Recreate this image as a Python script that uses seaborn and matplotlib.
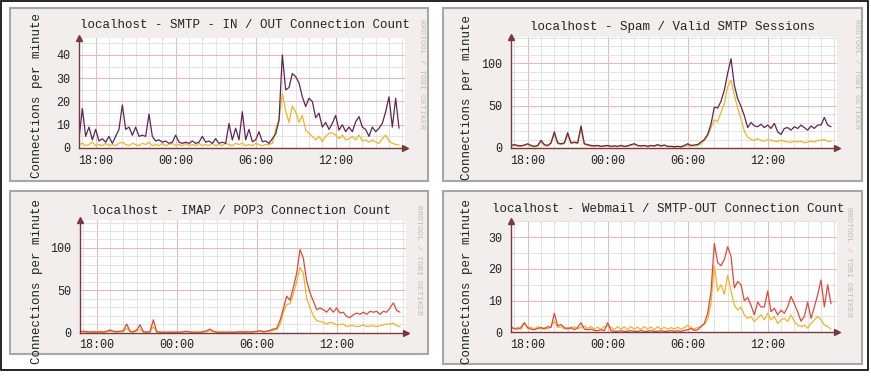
import numpy as np
import pandas as pd
import matplotlib.pyplot as plt
import seaborn as sns
from matplotlib.patches import Rectangle
from matplotlib.ticker import FixedLocator, MultipleLocator

# 15 minute samples, 16:45 -> 16:45 next day (hours, 24 = midnight)
hours = 16.75 + 0.25 * np.arange(97)
tick_hours = [18, 24, 30, 36]
tick_labels = ['18:00', '00:00', '06:00', '12:00']

smtp_in = [4, 17, 5, 9, 3.5, 8, 3, 4, 2.5, 5,
           2, 5, 8, 18.5, 8, 9, 5.5, 9, 5, 5.5,
           5, 14.6, 5, 3, 3.5, 2.5, 3, 2, 2.5, 5.5,
           2.5, 2, 2.5, 2, 3, 2, 2.5, 5, 2.5, 3,
           2, 4, 2, 2.5, 2, 10.5, 3.5, 8.5, 3.5, 15.6,
           3.5, 8, 2.7, 3.5, 7, 2.7, 3, 2, 4, 6,
           12, 40, 25, 26, 32, 30.7, 28, 22, 17.8, 21.4,
           20, 13, 15, 9, 11, 8, 10.6, 14, 7.7, 10,
           7, 9, 7, 11.3, 13.5, 9, 8, 5, 9, 7,
           8.5, 10.6, 15.6, 22, 9, 21.4, 8.5]
smtp_out = [1.5, 2, 1, 1.5, 2.5, 1, 1.5, 1, 2, 1,
            1.5, 1, 2, 2.5, 1.5, 1, 2, 1.5, 1, 2,
            1.5, 2.5, 1, 1.5, 1, 2, 1, 1.5, 2, 1,
            1.5, 1, 2, 1, 1.5, 1, 2, 1, 1.5, 1,
            2, 1, 1.5, 1, 2, 1.5, 1, 2, 1.5, 2,
            1, 1.5, 1, 2, 1.5, 1, 1.5, 1.5, 2, 8,
            12, 23.5, 16, 11, 18, 15.6, 11, 14, 7.7, 6.3,
            5, 3.5, 5, 2.7, 5, 6.3, 6.5, 5.5, 4, 5.6,
            3.5, 4, 5, 3.5, 5.6, 3, 3.5, 2.5, 3.5, 2.5,
            2, 4, 5.6, 3, 2, 1.5, 1.3]

sessions_all = [3, 4, 3, 2.5, 3.5, 5, 3, 2, 3, 9,
                4, 3, 6, 19, 6, 5, 6, 18, 6, 7,
                6, 26, 5, 4, 3, 2.5, 3, 2, 2.5, 3,
                2, 2.5, 2, 3, 2, 2.5, 4, 5, 3, 2.5,
                3, 2, 3, 2.5, 4, 2.5, 3.5, 2, 2, 1.5,
                2, 1.5, 3, 5, 3, 3.5, 4, 7, 10, 16,
                28, 48, 47, 55, 68, 88, 105, 74, 58, 49,
                38, 24, 30, 26, 25, 28, 24, 27, 23, 29,
                19, 16, 23, 24, 21, 25, 23, 27, 24, 21,
                26, 23, 27, 27, 36, 27, 25]
sessions_spam = [2, 3, 2, 2, 3, 4, 2, 1.5, 2, 7,
                 3, 2, 5, 16, 5, 4, 5, 15, 5, 6,
                 5, 22, 4, 3, 2, 2, 2.5, 1.5, 2, 2.5,
                 1.5, 2, 1.5, 2.5, 1.5, 2, 3, 4, 2.5, 2,
                 2.5, 1.5, 2.5, 2, 3, 2, 3, 1.5, 1.5, 1,
                 1.5, 1, 2, 3, 2, 2.5, 3, 5, 9, 14,
                 24, 33, 31, 42, 52, 72, 80, 62, 47, 34,
                 20, 13, 10, 9, 11, 9, 8, 10, 9, 8,
                 7.5, 9, 8, 7, 6.5, 8, 7, 8, 6, 7,
                 8, 7, 9, 9, 10, 8, 7.5]

imap = [1, 1.5, 1, 0.5, 1, 0.5, 1, 0.5, 1.5, 3,
        1.5, 1, 1.5, 2, 10, 1.5, 1, 3, 9, 1,
        0.5, 1, 15, 1, 0.5, 0.5, 0.3, 0.5, 0.3, 0.5,
        0.3, 1, 1.5, 0.5, 0.3, 0.5, 0.3, 1, 2, 4,
        1.5, 0.5, 0.3, 0.5, 0.3, 0.5, 0.3, 0.5, 1, 0.5,
        1, 0.5, 1, 1.5, 2, 1, 1.5, 2.5, 4, 5,
        14, 28, 43, 38, 53, 70, 98, 88, 61, 47,
        37, 27, 29, 27, 24, 29, 24, 29, 23, 24,
        19, 17.5, 21, 23, 21.5, 24, 21.5, 25, 24, 25,
        21.5, 25, 24, 29, 35, 26, 24]
pop3 = [0.5, 0.8, 0.5, 0.3, 0.5, 0.3, 0.5, 0.3, 0.8, 1.5,
        0.8, 0.5, 0.8, 1, 5, 0.8, 0.5, 1.5, 4, 0.5,
        0.3, 0.5, 7, 0.5, 0.3, 0.3, 0.2, 0.3, 0.2, 0.3,
        0.2, 0.5, 0.8, 0.3, 0.2, 0.3, 0.2, 0.5, 1, 2,
        0.8, 0.3, 0.2, 0.3, 0.2, 0.3, 0.2, 0.3, 0.5, 0.3,
        0.5, 0.3, 0.5, 1, 1.5, 0.5, 1, 1.5, 2.5, 3.5,
        9, 24, 33, 34, 45, 60, 77, 70, 40, 29,
        20, 14, 13, 12, 10, 12, 11, 9, 9.5, 10,
        7, 8, 8, 7, 7.5, 9, 7, 7.5, 8, 7,
        8, 9, 10, 10, 11, 8, 7]

webmail = [1.5, 1.2, 1, 1.5, 3, 1.5, 1, 0.8, 1.2, 1.5,
           1, 1.8, 1.5, 6, 2, 2.5, 1.5, 1, 1.5, 0.8,
           1.5, 3, 1, 0.8, 1, 0.6, 0.5, 0.8, 0.5, 3,
           0.5, 0.3, 0.3, 0.5, 0.3, 0.3, 0.5, 0.3, 0.3, 0.5,
           0.3, 0.3, 0.5, 0.3, 0.3, 0.5, 0.3, 0.3, 0.5, 0.3,
           0.5, 0.3, 0.6, 0.8, 1.2, 0.6, 0.8, 1.8, 2.8, 6,
           12.8, 28, 22, 21, 23, 27, 24, 14, 16, 15,
           10, 11, 8.5, 5.5, 9.5, 8, 8, 13, 6.5, 7.6,
           5.5, 7, 6, 8, 11.3, 9, 6.5, 3.5, 5, 9.5,
           4.4, 8, 11.8, 16.5, 8, 15, 9]
smtp_relay = [1.8, 1, 1.6, 0.9, 3, 1.2, 1.6, 1, 1.8, 1.1,
              1.5, 1, 1.8, 3.5, 1.5, 1.8, 1, 1.6, 1.2, 1.8,
              1, 1.6, 2, 1.2, 1.8, 1, 1.6, 0.9, 1.8, 2,
              1.6, 0.8, 1.8, 1, 1.7, 0.8, 1.8, 1, 1.6, 0.9,
              1.8, 1, 1.7, 0.8, 1.8, 1, 1.6, 0.9, 1.5, 1,
              1.6, 1, 1.5, 2.2, 1.5, 1, 1.5, 1.8, 2.5, 4,
              9, 21, 13, 15, 12, 18, 13, 8.6, 7, 8,
              5.5, 4.4, 5, 3.4, 4.4, 5.5, 3.9, 6, 3.9, 5,
              2.8, 3.9, 4.4, 3.4, 5.5, 3.4, 2.3, 1.8, 2.3, 1.3,
              2.8, 3.9, 5, 3.9, 2.3, 1.8, 1]

W, H = 871, 378
YELLOW = '#f0b429'
PURPLE = '#5e2552'
RED = '#dc4a3c'

panels = [
    dict(title='localhost - SMTP - IN / OUT Connection Count',
         series={'out': (smtp_out, YELLOW), 'in': (smtp_in, PURPLE)},
         ax=(79, 38, 405, 148), ytop=47.3, major=10, minor=5,
         frame=(10, 8, 428, 181), tpos=(245, 25), ypos=(37, 96), wpos=(421, 74)),
    dict(title='localhost - Spam / Valid SMTP Sessions',
         series={'spam': (sessions_spam, YELLOW), 'all': (sessions_all, PURPLE)},
         ax=(511, 37, 837, 148), ytop=130.6, major=50, minor=10,
         frame=(443, 8, 862, 181), tpos=(672, 27), ypos=(467, 97), wpos=(856, 74)),
    dict(title='localhost - IMAP / POP3 Connection Count',
         series={'pop3': (pop3, YELLOW), 'imap': (imap, RED)},
         ax=(80, 220, 406, 332.5), ytop=133, major=50, minor=10,
         frame=(10, 191, 428, 354), tpos=(241, 211), ypos=(37, 281), wpos=(418, 260)),
    dict(title='localhost - Webmail / SMTP-OUT Connection Count',
         series={'smtp-out': (smtp_relay, YELLOW), 'webmail': (webmail, RED)},
         ax=(511, 221, 837, 332.3), ytop=35.1, major=10, minor=5,
         frame=(443, 191, 862, 364), tpos=(668, 209), ypos=(467, 281), wpos=(848, 262)),
]

sns.set_style('white')
plt.rcParams['font.family'] = ['Liberation Mono', 'DejaVu Sans Mono']

fig = plt.figure(figsize=(W / 100, H / 100), dpi=100)
fig.patch.set_facecolor('white')
fig.patches.append(Rectangle((1 / W, 1 - 370 / H), 867 / W, 369 / H, transform=fig.transFigure,
                             facecolor='none', edgecolor='black', lw=1.2, zorder=-2))


def fx(x):
    return x / W


def fy(y):
    return 1 - y / H


for p in panels:
    x0, y0, x1, y1 = p['frame']
    fig.patches.append(Rectangle((fx(x0), fy(y1)), (x1 - x0) / W, (y1 - y0) / H,
                                 transform=fig.transFigure, facecolor='#f3eeee',
                                 edgecolor='#a9a6a6', lw=1.5, zorder=-1))
    a0, b0, a1, b1 = p['ax']
    ax = fig.add_axes([fx(a0), fy(b1), (a1 - a0) / W, (b1 - b0) / H], zorder=1)
    ax.set_facecolor('white')

    frames = []
    for name, (vals, col) in p['series'].items():
        frames.append(pd.DataFrame({'hour': hours, 'value': vals, 'series': name}))
    df = pd.concat(frames, ignore_index=True)
    pal = {name: col for name, (vals, col) in p['series'].items()}
    sns.lineplot(data=df, x='hour', y='value', hue='series', palette=pal,
                 hue_order=list(p['series'].keys()), estimator=None, legend=False,
                 linewidth=0.9, ax=ax)

    ax.set_xlim(16.75, 41.2)
    ax.set_ylim(0, p['ytop'])
    ax.xaxis.set_major_locator(FixedLocator(tick_hours))
    ax.set_xticklabels(tick_labels)
    ax.xaxis.set_minor_locator(MultipleLocator(1))
    ax.yaxis.set_major_locator(MultipleLocator(p['major']))
    ax.yaxis.set_minor_locator(MultipleLocator(p['minor']))
    ax.grid(which='minor', color='#dedede', lw=0.6)
    ax.grid(which='major', color='#efb6b6', lw=0.7)
    ax.set_axisbelow(True)
    ax.tick_params(which='both', length=0, labelsize=8.5, colors='#222222')
    ax.tick_params(axis='x', pad=5)
    ax.tick_params(axis='y', pad=6)
    ax.set_xlabel('')
    ax.set_ylabel('')
    for s in ['top', 'right']:
        ax.spines[s].set_visible(False)
    for s in ['left', 'bottom']:
        ax.spines[s].set_color('#7a3a3a')
        ax.spines[s].set_linewidth(1.0)
    ax.plot([1.0], [0], marker='>', color='#7a3a3a', markersize=4,
            transform=ax.transAxes, clip_on=False)
    ax.plot([0], [1.0], marker='^', color='#7a3a3a', markersize=4,
            transform=ax.transAxes, clip_on=False)

    fig.text(fx(p['tpos'][0]), fy(p['tpos'][1]), p['title'], ha='center', va='center',
             fontsize=9, color='#222222')
    fig.text(fx(p['ypos'][0]), fy(p['ypos'][1]), 'Connections per minute', ha='center',
             va='center', rotation=90, fontsize=9, color='#222222')
    fig.text(fx(p['wpos'][0]), fy(p['wpos'][1]), 'RRDTOOL / TOBI OETIKER', ha='center',
             va='center', rotation=270, fontsize=6, color='#bdbdbd')

fig.savefig('out.png', dpi=100, facecolor='white')
